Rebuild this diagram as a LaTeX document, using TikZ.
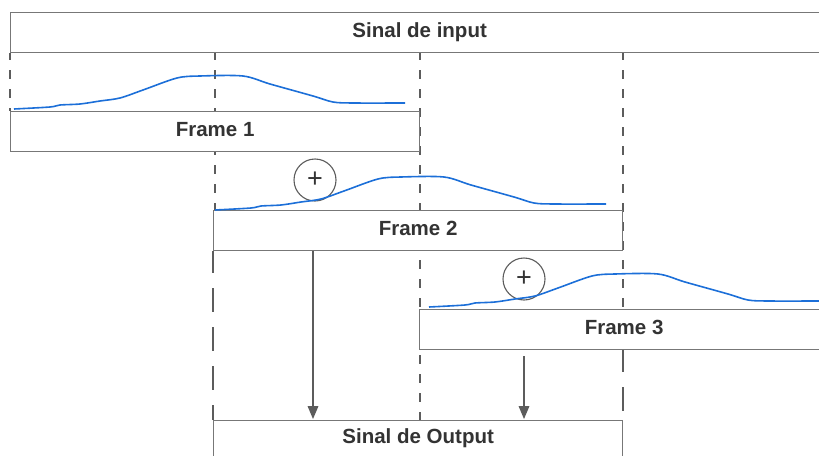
\documentclass[tikz,border=0pt]{standalone}
\usepackage{fontspec}
\setmainfont{Liberation Sans}
\usetikzlibrary{arrows,positioning,backgrounds}

\definecolor{wave}{HTML}{1C6FD8}
\definecolor{edge}{HTML}{777777}
\definecolor{guide}{HTML}{5C5C5C}
\definecolor{ink}{HTML}{333333}

% One windowed frame of the signal
\newcommand{\pulse}{plot [smooth, tension=0.5] coordinates {(14,109) (50,107) (60,105)
  (80,104) (100,101) (120,98) (143,90) (177,78) (200,76) (243,76) (270,84)
  (313,96) (333,102) (353,103) (405,103)}}

\begin{document}
\begin{tikzpicture}[%
    x=1pt, y=-1pt,              % one unit per pixel, y grows downwards
    >=triangle 45,
    ]
% -------------------------------------------------
% Box, wave and connector styles
\tikzset{
  label/.style={text=ink, font=\fontsize{20.5}{24}\selectfont\bfseries,
    text height=14pt, text depth=4pt},
  box/.style={label, draw=edge, fill=white, line width=1.3pt, anchor=north west,
    minimum height=40pt, inner sep=0pt},
  guide/.style={draw=guide, line width=2.2pt, dash pattern=on 9pt off 10pt, dash phase=2pt},
  guidelong/.style={guide, dash pattern=on 24pt off 15pt},
  wave/.style={draw=wave, line width=1.6pt, line join=round},
  sum/.style={draw=guide, circle, line width=1.1pt, minimum size=42pt,
    inner sep=0pt, text=ink, font=\fontsize{27}{27}\selectfont},
  to/.style={->, draw=guide, line width=2pt, shorten >=1pt},
}
\clip (0,0) rectangle (819,455);
% -------------------------------------------------
% Input, frames and output
\node [box, minimum width=818pt] (inp) at (10,12) {Sinal de input};
\node [box, minimum width=409pt] (f1) at (10,111) {Frame 1};
\node [box, minimum width=409pt] (f2) at (213,210) {Frame 2};
\node [box, minimum width=409pt] (f3) at (419,309) {Frame 3};
\node [box, minimum width=409pt, minimum height=50pt] (out) at (213,420) {};
\node [label] (outtxt) at (out.north |- 0,438) {Sinal de Output};

% Overlap-add marks
\node [sum] (p1) at (315,180) {+};
\node [sum] (p2) at (524,279) {+};

% -------------------------------------------------
\draw [wave] \pulse;
\draw [wave, shift={(201,101)}] \pulse;
\draw [wave, shift={(415,198)}] \pulse -- (420,103);

% Frame borders, behind the boxes
\begin{scope}[on background layer]
\draw [guide] (f1.north west |- inp.south) -- (f1.north west);
\draw [guide] ([xshift=2pt]f2.north west |- inp.south) -- ([xshift=2pt]f2.north west);
\draw [guidelong] (f2.south west) -- (out.north west);
\draw [guide] (f1.north east |- inp.south) -- (f1.north east |- out.north);
\draw [guide] (f2.north east |- inp.south) -- (f2.north east |- f3.south);
\draw [guidelong] (f2.north east |- f3.south) -- (out.north east);
\end{scope}

% Frames into the output
\draw [to] ([xshift=-2pt]p1 |- f2.south) -- ([xshift=-2pt]p1 |- out.north);
\draw [to] ([yshift=-6pt]p2 |- f3.south) -- (p2 |- out.north);
% -------------------------------------------------
\end{tikzpicture}
\end{document}
